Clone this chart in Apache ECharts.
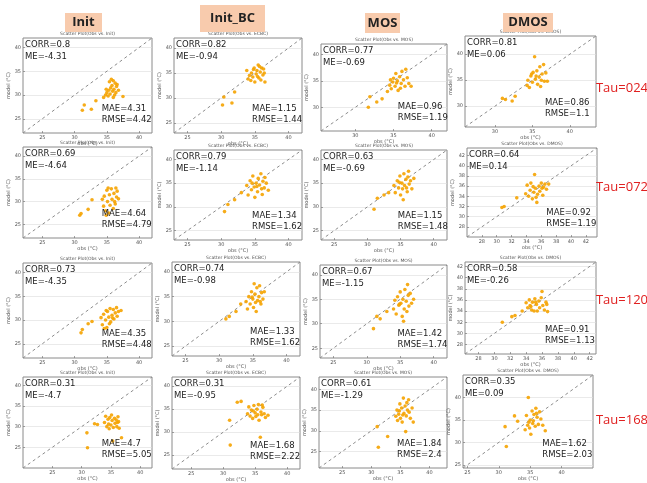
<!DOCTYPE html>
<html><head><meta charset="utf-8">
<script src="https://cdn.jsdelivr.net/npm/echarts@6/dist/echarts.min.js"></script>
<style>html,body{margin:0;padding:0;background:#fff}#c{width:647px;height:483px}</style>
</head><body><div id="c"></div>
<script>
// ---------- data ----------
const methods = ['Init','Init_BC','MOS','DMOS'];
const panelTitles = ['Scatter Plot(Obs vs. Init)','Scatter Plot(Obs vs. ECBC)','Scatter Plot(Obs vs. MOS)','Scatter Plot(Obs vs. DMOS)'];
const taus = ['Tau=024','Tau=072','Tau=120','Tau=168'];
const corr = [[0.8,0.82,0.77,0.81],[0.69,0.79,0.63,0.64],[0.73,0.74,0.67,0.58],[0.31,0.31,0.61,0.35]];
const me   = [[-4.31,-0.94,-0.69,0.06],[-4.64,-1.14,-0.69,0.14],[-4.35,-0.98,-1.15,-0.26],[-4.7,-0.95,-1.29,0.09]];
const mae  = [[4.31,1.15,0.96,0.86],[4.64,1.34,1.15,0.92],[4.35,1.33,1.42,0.91],[4.7,1.68,1.84,1.62]];
const rmse = [[4.42,1.44,1.19,1.1],[4.79,1.62,1.48,1.19],[4.48,1.62,1.74,1.13],[5.05,2.22,2.4,2.03]];

// axis limits [min,max] (same for obs and model)
const limits = [
  [[22,42],[23,42],[25.5,42],[26,43.5]],
  [[22,42],[23,42],[23,42],[26,43.5]],
  [[22,42],[23,42],[23,42],[26.3,42.8]],
  [[20,42],[22,42],[21,43],[24.3,45]]
];
const ticks5 = [20,25,30,35,40];
const ticks2 = [26,28,30,32,34,36,38,40,42];
const tickSets = [
  [ticks5,ticks5,ticks5,ticks5],
  [ticks5,ticks5,ticks5,ticks2],
  [ticks5,ticks5,ticks5,ticks2],
  [ticks5,ticks5,ticks5,ticks5]
];

// points [obs, model]
const init024 = [[31.2,26.8],[31.5,27.9],[32.6,27.0],[33.3,28.8],[34.5,29.5],[34.8,30.0],[35.0,30.5],[35.2,29.8],[35.3,31.0],[35.5,30.2],[35.6,31.5],[35.8,32.0],[35.9,30.8],[36.0,33.0],[36.1,31.2],[36.3,32.5],[36.4,30.5],[36.5,31.8],[36.6,32.2],[36.8,31.0],[35.4,32.8],[35.7,33.3],[36.2,30.0],[37.5,29.7],[34.9,31.2],[36.0,29.5]];
const initbc024 = [[30.2,28.6],[30.4,30.2],[31.6,29.0],[32.0,31.2],[33.8,35.5],[34.0,33.8],[34.2,34.5],[34.4,33.5],[34.5,35.0],[34.7,34.2],[34.9,36.0],[35.0,33.2],[35.2,34.8],[35.3,35.5],[35.5,36.6],[35.6,34.0],[35.8,35.2],[35.9,33.6],[36.0,36.0],[36.2,34.6],[36.3,35.8],[36.4,35.0],[35.4,34.3],[34.8,35.7],[36.5,33.2],[35.7,36.3]];
const mos024 = [[31.7,30.0],[31.9,32.0],[32.8,31.0],[33.5,31.6],[34.2,33.0],[34.5,34.2],[34.7,33.5],[34.9,34.8],[35.0,35.5],[35.2,34.0],[35.3,36.4],[35.5,35.0],[35.6,33.2],[35.8,35.8],[36.0,34.5],[36.1,36.8],[36.3,35.2],[36.5,34.0],[36.6,37.2],[36.8,35.6],[37.0,34.5],[37.3,34.0],[35.4,34.6],[34.6,35.2],[35.9,33.6]];
const dmos024 = [[31.0,31.5],[31.4,31.3],[32.3,31.0],[32.7,31.9],[34.3,34.0],[34.4,35.0],[34.6,33.6],[34.8,35.8],[35.0,34.6],[35.1,36.5],[35.3,39.5],[35.4,35.2],[35.6,36.8],[35.7,34.2],[35.9,35.6],[36.0,37.6],[36.2,35.0],[36.3,36.2],[36.5,38.0],[36.6,34.8],[36.8,36.4],[37.0,34.8],[35.5,35.8],[34.9,36.2],[36.1,33.8]];
const init072 = [[30.8,27.0],[31.0,27.4],[32.1,28.3],[32.7,30.4],[34.3,30.5],[34.5,29.0],[34.6,31.2],[34.8,28.0],[35.0,32.5],[35.1,30.0],[35.3,27.5],[35.4,31.5],[35.5,29.2],[35.7,32.8],[35.8,30.5],[36.0,28.5],[36.1,31.8],[36.2,30.0],[36.4,33.0],[36.5,31.0],[36.6,32.3],[36.8,30.6],[35.2,33.0],[34.9,27.0],[36.3,29.5]];
const initbc072 = [[30.5,29.0],[31.0,30.5],[32.0,31.5],[33.0,33.0],[33.8,34.5],[34.0,32.5],[34.3,35.5],[34.5,33.6],[34.7,36.5],[34.9,34.2],[35.0,32.0],[35.2,35.0],[35.4,33.2],[35.5,36.0],[35.7,34.6],[35.9,37.0],[36.0,33.8],[36.2,35.4],[36.4,34.0],[36.5,36.2],[36.7,35.0],[37.0,33.5],[35.3,34.3],[34.6,35.0],[36.1,32.6]];
const mos072 = [[31.0,29.5],[31.5,31.8],[32.5,32.5],[33.2,33.0],[34.0,34.5],[34.2,33.0],[34.5,35.5],[34.7,34.0],[34.9,36.5],[35.0,32.5],[35.2,35.0],[35.3,33.8],[35.5,37.0],[35.6,34.5],[35.8,35.8],[36.0,33.2],[36.1,36.3],[36.3,34.8],[36.5,35.5],[36.7,33.8],[37.0,36.0],[35.4,31.5],[34.8,35.2],[36.2,37.5],[35.9,34.0]];
const dmos072 = [[30.7,31.8],[31.0,32.0],[32.7,33.7],[33.9,34.5],[34.1,36.2],[34.3,34.0],[34.5,35.2],[34.6,36.6],[34.8,33.5],[35.0,34.8],[35.1,38.3],[35.2,35.6],[35.4,32.8],[35.5,34.4],[35.7,36.0],[35.8,35.0],[36.0,36.6],[36.2,34.2],[36.3,35.8],[36.5,36.4],[36.7,35.4],[37.0,36.4],[35.3,33.8],[34.9,35.9],[36.1,35.6]];
const init120 = [[31.0,27.3],[31.2,28.0],[32.1,29.2],[32.7,29.7],[34.1,30.5],[34.3,29.0],[34.5,31.2],[34.6,28.2],[34.8,30.0],[35.0,28.4],[35.1,31.8],[35.3,30.6],[35.5,32.4],[35.6,29.6],[35.8,31.0],[36.0,32.2],[36.1,30.2],[36.3,31.5],[36.5,32.6],[36.6,30.8],[36.8,31.8],[37.2,32.0],[35.4,29.2],[35.9,30.4],[34.9,32.0]];
const initbc120 = [[31.0,30.5],[31.5,31.0],[32.5,32.0],[33.2,33.5],[34.0,34.0],[34.2,32.5],[34.4,35.0],[34.6,33.5],[34.8,36.0],[35.0,34.5],[35.1,32.8],[35.3,35.5],[35.4,33.8],[35.6,36.8],[35.7,34.2],[35.9,35.0],[36.0,37.2],[36.2,33.5],[36.3,35.8],[36.5,34.5],[36.7,36.0],[35.5,32.0],[34.9,34.9],[36.1,34.0],[35.2,37.6]];
const mos120 = [[31.0,29.0],[31.5,31.5],[32.0,31.0],[33.0,32.5],[34.0,33.0],[34.2,34.8],[34.4,32.0],[34.6,35.5],[34.8,33.8],[35.0,36.5],[35.1,34.2],[35.3,31.5],[35.4,35.0],[35.6,33.0],[35.7,37.0],[35.9,34.6],[36.0,32.5],[36.2,35.8],[36.3,33.6],[36.5,36.2],[36.7,34.2],[37.0,35.0],[35.5,30.5],[34.9,34.0],[36.1,38.0]];
const dmos120 = [[31.0,32.0],[32.2,33.0],[32.6,33.2],[33.5,34.0],[34.0,35.5],[34.2,34.6],[34.4,36.0],[34.5,35.0],[34.7,34.2],[34.8,35.6],[35.0,34.0],[35.1,36.2],[35.3,35.2],[35.4,34.0],[35.6,35.8],[35.7,34.6],[35.9,36.4],[36.0,37.5],[36.1,35.0],[36.3,34.2],[36.5,35.6],[36.6,35.2],[36.7,33.9],[35.2,35.6],[34.6,34.8]];
const init168 = [[30.9,28.5],[31.0,24.9],[32.2,30.7],[32.7,30.5],[33.9,31.0],[34.1,32.5],[34.3,30.0],[34.5,31.8],[34.7,29.5],[34.8,32.2],[35.0,30.4],[35.2,31.5],[35.3,26.5],[35.4,29.8],[35.6,32.0],[35.7,30.8],[35.9,31.6],[36.0,30.0],[36.2,32.4],[36.3,31.2],[36.4,29.6],[36.8,27.3],[35.1,32.8],[34.6,30.6],[36.1,31.0]];
const initbc168 = [[31.0,32.6],[31.1,27.2],[32.2,36.5],[32.8,36.7],[33.8,34.0],[34.0,35.5],[34.2,33.5],[34.4,34.8],[34.6,33.0],[34.8,35.8],[35.0,34.2],[35.1,33.4],[35.3,35.0],[35.5,36.0],[35.6,32.6],[35.8,28.9],[35.9,34.4],[36.0,33.8],[36.2,35.4],[36.4,34.0],[36.6,33.2],[37.0,33.7],[35.4,33.8],[34.7,34.6],[36.1,35.9]];
const mos168 = [[31.0,31.0],[31.2,26.0],[32.8,28.6],[34.2,33.5],[34.4,35.0],[34.5,32.5],[34.7,34.0],[34.9,36.5],[35.0,33.0],[35.2,35.5],[35.3,32.1],[35.5,37.9],[35.6,34.2],[35.8,36.0],[35.9,29.8],[36.0,33.6],[36.2,35.0],[36.4,37.5],[36.5,34.5],[36.7,33.0],[37.0,35.5],[37.2,32.1],[35.4,33.8],[34.8,34.8],[36.1,36.8]];
const dmos168 = [[31.0,33.5],[31.2,29.1],[32.5,35.9],[33.0,34.7],[34.2,32.8],[34.4,36.0],[34.7,40.0],[34.6,33.8],[34.8,34.5],[35.0,35.0],[35.1,31.8],[35.3,37.0],[35.5,34.8],[35.6,36.2],[35.8,33.6],[35.9,37.6],[36.1,35.6],[36.3,34.0],[36.5,36.8],[36.7,35.2],[37.0,33.8],[37.4,32.6],[35.4,34.2],[36.0,36.5],[34.9,33.2]];

const points = [
  [init024, initbc024, mos024, dmos024],
  [init072, initbc072, mos072, dmos072],
  [init120, initbc120, mos120, dmos120],
  [init168, initbc168, mos168, dmos168]
];

// ---------- layout (pixel boxes: left, top, right, bottom) ----------
const boxes = [
  [[23,38,152,133],[174,38,302,133],[321,44,447,131],[465,36,596,127]],
  [[23,147,152,238],[174,150,302,240],[321,150,447,240],[467,148,597,237]],
  [[23,263,152,358],[172,262,300,356],[320,265,447,358],[465,262,596,354]],
  [[23,377,152,468],[172,377,300,470],[319,377,447,468],[463,375,593,468]]
];
const headerBoxes = [[65,13,102,32],[200,5,265,32],[365,13,400,33],[503,13,553,32]];
const tauY = [88,187,300,420];

const grids = [], xAxes = [], yAxes = [], series = [], graphics = [];
const statFont = '8.5px "DejaVu Sans"';
let idx = 0;
for (let r = 0; r < 4; r++) {
  for (let c = 0; c < 4; c++) {
    const [L,T,R,B] = boxes[r][c];
    const [lo,hi] = limits[r][c];
    const tk = tickSets[r][c].filter(v => v > lo && v < hi);
    grids.push({left:L, top:T, width:R-L, height:B-T, show:true, borderColor:'#8a8a8a', borderWidth:1, backgroundColor:'#fff', containLabel:false});
    const common = {
      type:'value', gridIndex:idx, min:lo, max:hi,
      axisLine:{show:false},
      axisTick:{show:true, inside:true, length:2, customValues:tk, lineStyle:{color:'#666', width:0.6}},
      axisLabel:{customValues:tk, fontSize:5, color:'#555', margin:2, fontFamily:'DejaVu Sans'},
      nameLocation:'middle', nameTextStyle:{fontSize:5, color:'#555', fontFamily:'DejaVu Sans'}
    };
    xAxes.push(Object.assign({}, common, {name:'obs (°C)', nameGap:8, splitLine:{show:false}}));
    yAxes.push(Object.assign({}, common, {name:'model (°C)', nameGap:10, splitLine:{show:true, lineStyle:{color:'#dcdcdc', width:0.6}}}));
    series.push({type:'line', xAxisIndex:idx, yAxisIndex:idx, data:[[lo,lo],[hi,hi]], symbol:'none', silent:true,
      lineStyle:{color:'#8c8c8c', width:1, type:[3,3]}, z:1});
    series.push({type:'scatter', xAxisIndex:idx, yAxisIndex:idx, data:points[r][c], symbolSize:3.6,
      itemStyle:{color:'#F5A300', opacity:0.9}, z:3});
    // panel sub-title
    graphics.push({type:'text', x:(L+R)/2, y:T-2, style:{text:panelTitles[c], font:'4.5px "DejaVu Sans"', fill:'#555', align:'center', verticalAlign:'bottom'}});
    // stats
    graphics.push({type:'text', x:L+2, y:T+7, style:{text:'CORR='+corr[r][c], font:statFont, fill:'#222', verticalAlign:'middle'}, z:10});
    graphics.push({type:'text', x:L+2, y:T+19, style:{text:'ME='+me[r][c], font:statFont, fill:'#222', verticalAlign:'middle'}, z:10});
    graphics.push({type:'text', x:L+(R-L)*0.61, y:B-24, style:{text:'MAE='+mae[r][c], font:statFont, fill:'#222', verticalAlign:'middle'}, z:10});
    graphics.push({type:'text', x:L+(R-L)*0.61, y:B-13, style:{text:'RMSE='+rmse[r][c], font:statFont, fill:'#222', verticalAlign:'middle'}, z:10});
    idx++;
  }
}
for (let c = 0; c < 4; c++) {
  const [L,T,R,B] = headerBoxes[c];
  graphics.push({type:'rect', shape:{x:L, y:T, width:R-L, height:B-T}, style:{fill:'#F8CBAD'}});
  graphics.push({type:'text', x:(L+R)/2, y:(T+B)/2, style:{text:methods[c], font:'bold 13px "Open Sans"', fill:'#222', align:'center', verticalAlign:'middle'}});
}
for (let r = 0; r < 4; r++) {
  graphics.push({type:'text', x:622, y:tauY[r], style:{text:taus[r], font:'13px "Open Sans"', fill:'#E02020', align:'center', verticalAlign:'middle'}});
}

const chart = echarts.init(document.getElementById('c'), null, {renderer:'canvas'});
chart.setOption({animation:false, backgroundColor:'#fff', grid:grids, xAxis:xAxes, yAxis:yAxes, series:series, graphic:graphics});
</script></body></html>
